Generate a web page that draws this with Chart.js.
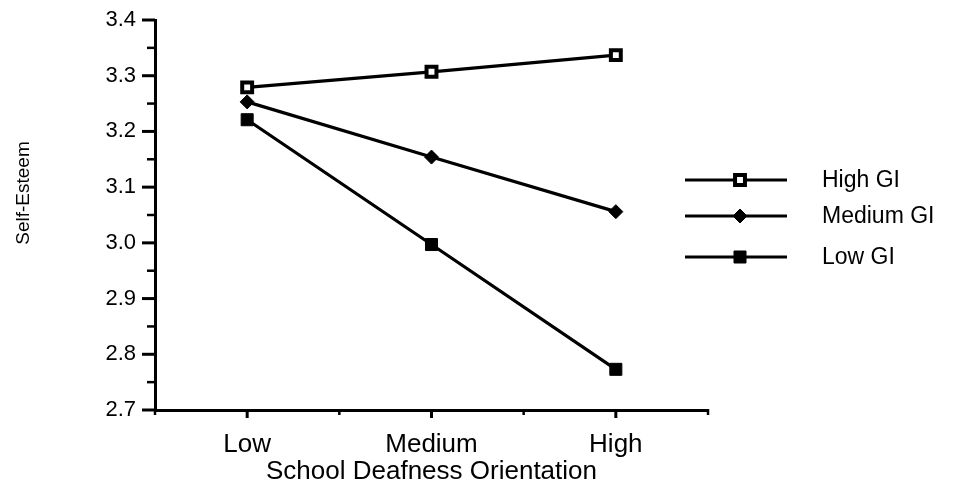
<!DOCTYPE html>
<html>
<head>
<meta charset="utf-8">
<script src="https://cdn.jsdelivr.net/npm/chart.js@4"></script>
<style>
  html, body { margin: 0; padding: 0; background: #fff; }
  #wrap { width: 953px; height: 497px; }
</style>
</head>
<body>
<div id="wrap"><canvas id="c" width="953" height="497"></canvas></div>
<script>
const categories = ['Low', 'Medium', 'High'];
const seriesNames = ['High GI', 'Medium GI', 'Low GI'];
const highGI = [3.279, 3.307, 3.337];
const mediumGI = [3.253, 3.154, 3.056];
const lowGI = [3.221, 2.997, 2.773];
const yTicks = [2.7, 2.8, 2.9, 3.0, 3.1, 3.2, 3.3, 3.4];
const xTitle = 'School Deafness Orientation';
const yTitle = 'Self-Esteem';

const FONT = '"Liberation Sans", Arial, Helvetica, sans-serif';

const pointDefs = [
  { pointStyle: 'rect', radius: 7, bg: '#fff', bw: 4 },
  { pointStyle: 'rectRot', radius: 7, bg: '#000', bw: 1 },
  { pointStyle: 'rect', radius: 8.5, bg: '#000', bw: 1 }
];

function drawMarker(ctx, def, x, y) {
  const opts = { pointStyle: def.pointStyle, radius: def.radius, rotation: 0, borderWidth: def.bw };
  ctx.save();
  ctx.fillStyle = def.bg;
  ctx.strokeStyle = '#000';
  ctx.lineWidth = def.bw;
  if (Chart.helpers && Chart.helpers.drawPoint) {
    Chart.helpers.drawPoint(ctx, opts, x, y);
  } else {
    ctx.beginPath();
    if (def.pointStyle === 'rect') {
      const s = Math.SQRT1_2 * def.radius;
      ctx.rect(x - s, y - s, 2 * s, 2 * s);
    } else {
      ctx.moveTo(x, y - def.radius); ctx.lineTo(x + def.radius, y);
      ctx.lineTo(x, y + def.radius); ctx.lineTo(x - def.radius, y); ctx.closePath();
    }
    ctx.fill(); ctx.stroke();
  }
  ctx.restore();
}

const tickPlugin = {
  id: 'tickMarks',
  afterDraw(chart) {
    const ctx = chart.ctx;
    const xs = chart.scales.x, ys = chart.scales.y;
    const axisX = ys.right, axisY = xs.top;
    ctx.save();
    ctx.strokeStyle = '#000';
    ctx.lineCap = 'butt';
    // y ticks
    for (let i = 0; i < yTicks.length; i++) {
      const py = ys.getPixelForValue(yTicks[i]);
      ctx.lineWidth = 3;
      ctx.beginPath(); ctx.moveTo(axisX - 13, py); ctx.lineTo(axisX, py); ctx.stroke();
      if (i < yTicks.length - 1) {
        const pm = ys.getPixelForValue((yTicks[i] + yTicks[i + 1]) / 2);
        ctx.lineWidth = 2.5;
        ctx.beginPath(); ctx.moveTo(axisX - 8, pm); ctx.lineTo(axisX, pm); ctx.stroke();
      }
    }
    // x ticks
    for (let i = 0; i < categories.length; i++) {
      const px = xs.getPixelForValue(i);
      ctx.lineWidth = 3;
      ctx.beginPath(); ctx.moveTo(px, axisY); ctx.lineTo(px, axisY + 8); ctx.stroke();
    }
    const step = xs.getPixelForValue(1) - xs.getPixelForValue(0);
    for (let i = 0; i <= categories.length; i++) {
      const px = xs.getPixelForValue(0) + (i - 0.5) * step;
      ctx.lineWidth = 2.5;
      ctx.beginPath(); ctx.moveTo(px, axisY - 1); ctx.lineTo(px, axisY + 5); ctx.stroke();
    }
    // y title
    ctx.save();
    ctx.translate(24, 193);
    ctx.rotate(-Math.PI / 2);
    ctx.font = '19px ' + FONT;
    ctx.fillStyle = '#000';
    ctx.textAlign = 'center';
    ctx.textBaseline = 'middle';
    ctx.fillText(yTitle, 0, 0);
    ctx.restore();
    // legend
    const rows = [180, 216, 257];
    ctx.font = '23px ' + FONT;
    ctx.fillStyle = '#000';
    ctx.textBaseline = 'middle';
    ctx.textAlign = 'left';
    for (let i = 0; i < seriesNames.length; i++) {
      const y = rows[i];
      ctx.lineWidth = 3;
      ctx.beginPath(); ctx.moveTo(685, y); ctx.lineTo(787, y); ctx.stroke();
      drawMarker(ctx, pointDefs[i], 740, y);
      ctx.fillText(seriesNames[i], 822, y + 1);
    }
    ctx.restore();
  }
};

const dataSeries = [highGI, mediumGI, lowGI];
const datasets = dataSeries.map((d, i) => ({
  label: seriesNames[i],
  data: d,
  borderColor: '#000',
  borderWidth: 3.2,
  backgroundColor: pointDefs[i].bg,
  pointStyle: pointDefs[i].pointStyle,
  pointRadius: pointDefs[i].radius,
  pointBorderWidth: pointDefs[i].bw,
  pointBorderColor: '#000',
  pointBackgroundColor: pointDefs[i].bg,
  pointHoverRadius: pointDefs[i].radius,
  tension: 0,
  fill: false
}));

new Chart(document.getElementById('c'), {
  type: 'line',
  data: { labels: categories, datasets: datasets },
  options: {
    responsive: false,
    animation: false,
    devicePixelRatio: 1,
    layout: { padding: { top: 20, right: 245, left: 14, bottom: 6 } },
    plugins: { legend: { display: false }, tooltip: { enabled: false } },
    scales: {
      x: {
        type: 'category',
        offset: true,
        grid: { display: true, drawOnChartArea: false, drawTicks: false },
        border: { display: true, color: '#000', width: 3 },
        ticks: { color: '#000', font: { family: FONT, size: 26 }, padding: 19, maxRotation: 0 },
        title: { display: true, text: xTitle, color: '#000', font: { family: FONT, size: 26 } },
        afterFit(s) { s.height = 81; s.paddingLeft = 0; s.paddingRight = 0; }
      },
      y: {
        type: 'linear',
        min: 2.7,
        max: 3.4,
        afterBuildTicks(s) { s.ticks = yTicks.map(v => ({ value: v })); },
        grid: { display: true, drawOnChartArea: false, drawTicks: false },
        border: { display: true, color: '#000', width: 3 },
        ticks: { color: '#000', font: { family: FONT, size: 22 }, padding: 19, callback: v => Number(v).toFixed(1) },
        title: { display: false },
        afterFit(s) { s.width = 141; s.paddingTop = 0; s.paddingBottom = 0; }
      }
    }
  },
  plugins: [tickPlugin]
});
</script>
</body>
</html>
